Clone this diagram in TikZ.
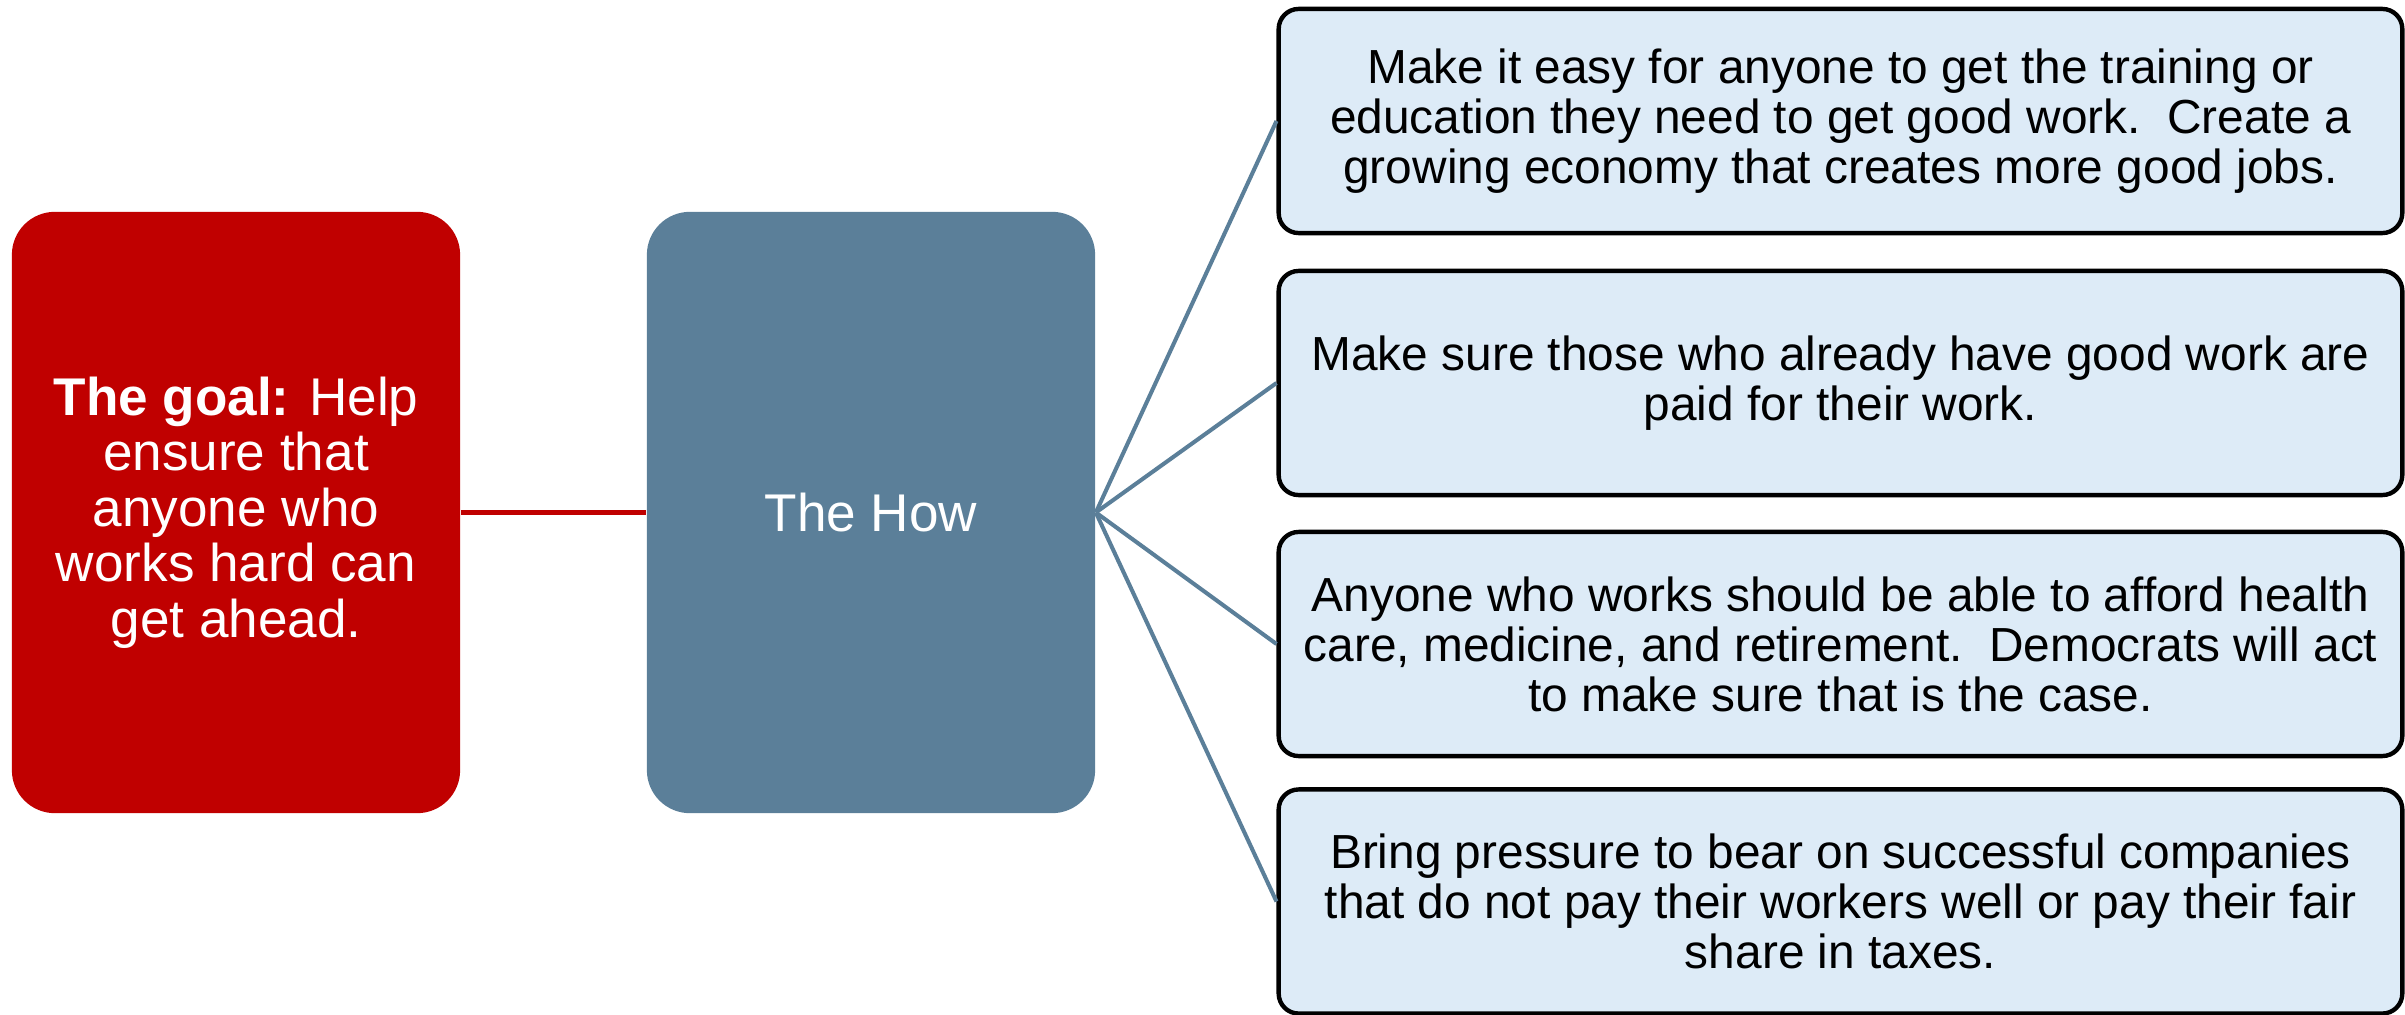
\documentclass[tikz,border=0pt]{standalone}
\usepackage{fontspec}
\setmainfont{Liberation Sans}
\definecolor{goalred}{RGB}{192,0,0}
\definecolor{howblue}{RGB}{91,127,153}
\definecolor{itemfill}{RGB}{221,235,247}
\tikzset{
  bigbox/.style={rounded corners=0.43cm, minimum width=4.48cm, minimum height=6.01cm,
    inner sep=0pt, align=center, text=white, font=\fontsize{15.1}{15.8}\selectfont},
  itembox/.style={draw=black, line width=1.25pt, fill=itemfill, rounded corners=0.2cm,
    minimum width=11.23cm, minimum height=2.24cm, inner sep=0pt, align=center,
    font=\fontsize{13.6}{14.2}\selectfont},
  howline/.style={draw=howblue, line width=1.15pt},
  goalline/.style={draw=goalred, line width=1.6pt}
}
\begin{document}
\begin{tikzpicture}[x=0.01cm,y=-0.01cm]
\useasboundingbox (0,0) rectangle (2405,1015);
\node[bigbox, fill=goalred] (goal) at (236,512.5) {\textbf{The goal:} Help\\ensure that\\anyone who\\works hard can\\get ahead.};
\node[bigbox, fill=howblue] (how) at (871,512.5) {The How};
\node[itembox] (i1) at (1840.5,121) {Make it easy for anyone to get the training or\\education they need to get good work.\ \ Create a\\growing economy that creates more good jobs.};
\node[itembox] (i2) at (1840.5,383) {Make sure those who already have good work are\\paid for their work.};
\node[itembox] (i3) at (1840.5,644) {Anyone who works should be able to afford health\\care, medicine, and retirement.\ \ Democrats will act\\to make sure that is the case.};
\node[itembox] (i4) at (1840.5,901.5) {Bring pressure to bear on successful companies\\that do not pay their workers well or pay their fair\\share in taxes.};
\draw[goalline] (goal.east) -- (how.west);
\foreach \n in {i1,i2,i3,i4} \draw[howline] (how.east) -- (\n.west);
\end{tikzpicture}
\end{document}
